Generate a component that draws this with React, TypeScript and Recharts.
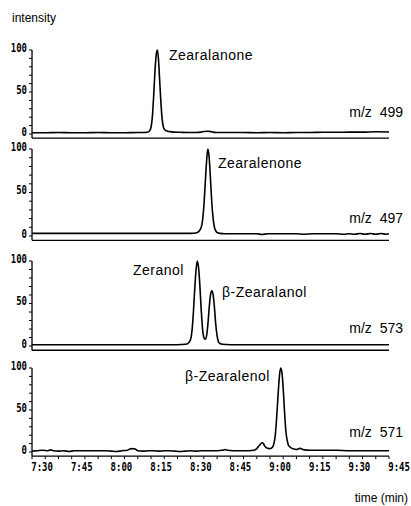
import React from 'react';
import { LineChart, Line, XAxis, YAxis } from 'recharts';

// time in minutes (450 = 7:30, 585 = 9:45)
const X_TICKS = [450, 455, 460, 465, 470, 475, 480, 485, 490, 495, 500, 505, 510, 515, 520, 525, 530, 535, 540, 545, 550, 555, 560, 565, 570, 575, 580, 585];
const X_LABELS = [450, 465, 480, 495, 510, 525, 540, 555, 570, 585];
const Y_TICKS = [0, 10, 20, 30, 40, 50, 60, 70, 80, 90, 100];
const Y_LABELS = [0, 50, 100];

// m/z 499 – Zearalanone
const mz499: [number, number][] = [
  [450, 1.5], [455, 1.5], [460, 1.8], [465, 1.5], [470, 1.5], [475, 1.8], [480, 1.5], [485, 1.5], [490, 1.8],
  [492, 1.8], [493.5, 2], [494.5, 4], [495, 8], [495.5, 20], [496, 45], [496.5, 75], [497, 95], [497.4, 100],
  [497.8, 90], [498.2, 68], [498.7, 40], [499.2, 18], [499.7, 8], [500.2, 5], [501, 3.5], [502, 2.8], [503.5, 2.2],
  [506, 2], [509, 1.8], [512, 1.8], [514, 2.2], [515, 3], [516.5, 3.2], [518, 2.6], [519.5, 1.8], [525, 1.8],
  [530, 1.8], [535, 1.5], [540, 1.8], [545, 1.5], [550, 1.8], [555, 1.8], [560, 2], [565, 2], [570, 2.2],
  [575, 2.2], [580, 2.6], [585, 2.4],
];

// m/z 497 – Zearalenone
const mz497: [number, number][] = [
  [450, 3], [460, 3], [470, 3], [480, 3], [490, 3], [500, 3], [505, 3], [510, 3], [512, 3.5], [513, 5],
  [514, 10], [514.5, 18], [515, 35], [515.5, 60], [516, 85], [516.5, 100], [517, 90], [517.5, 65], [518, 38],
  [518.5, 20], [519, 10], [519.5, 6], [520, 4], [521, 3], [523, 2.5], [526, 2.5], [530, 2.5], [535, 2.5],
  [537, 1.8], [539, 2.5], [545, 2.5], [550, 2.5], [553, 2], [556, 2.5], [560, 2.5], [565, 2.5], [568, 2],
  [570, 2.5], [572, 2], [574, 2.8], [576, 2], [578, 2.8], [580, 2], [582, 2.8], [584, 2], [585, 2.5],
];

// m/z 573 – Zeranol, beta-Zearalanol
const mz573: [number, number][] = [
  [450, 1.5], [460, 1.5], [470, 1.5], [480, 1.5], [490, 1.5], [500, 1.5], [505, 1.5], [508, 2], [509, 3],
  [510, 8], [510.5, 18], [511, 38], [511.5, 65], [512, 88], [512.5, 100], [513, 92], [513.5, 70], [514, 42],
  [514.5, 20], [515, 10], [515.5, 8], [516, 12], [516.5, 25], [517, 45], [517.5, 60], [518, 65], [518.5, 60],
  [519, 45], [519.5, 25], [520, 12], [520.5, 5], [521, 3], [522, 2], [525, 1.5], [530, 1.5], [540, 1.5],
  [550, 1.5], [560, 1.5], [570, 1.5], [580, 1.5], [585, 1.5],
];

// m/z 571 – beta-Zearalenol
const mz571: [number, number][] = [
  [450, 1], [452, 1.5], [454, 2], [456, 1.5], [457, 2.5], [458, 1.5], [460, 1], [462, 1.5], [464, 0.5],
  [466, 1.5], [468, 1.5], [470, 1.5], [472, 1.5], [474, 1.5], [476, 1.5], [478, 1.5], [480, 1], [482, 0.5],
  [484, 1.5], [486, 2], [487, 3.5], [488, 4], [489, 3.5], [490, 1.5], [492, 1], [494, 1.5], [496, 1.5],
  [498, 1], [500, 1.5], [502, 1.5], [504, 1], [506, 0.5], [508, 1], [510, 1.5], [512, 1], [514, 1.5],
  [516, 1.5], [518, 1.5], [520, 1.5], [522, 2], [523, 3], [524, 2], [526, 1.5], [528, 1.5], [530, 1.5],
  [532, 1.5], [534, 2], [535, 4], [536, 8], [537, 11], [537.5, 10], [538, 7], [539, 4.5], [540, 4], [541, 6],
  [542, 20], [542.5, 40], [543, 65], [543.5, 88], [544, 100], [544.5, 95], [545, 75], [545.5, 48], [546, 25],
  [546.5, 14], [547, 8], [548, 5], [549, 3.5], [550, 3], [551, 4], [551.5, 4.5], [552, 3.5], [553, 2.5],
  [555, 2], [558, 2], [560, 2], [565, 2], [570, 1.5], [575, 1.5], [580, 1.5], [585, 1.5],
];

const fmt = (m: number) => `${Math.floor(m / 60)}:${String(m % 60).padStart(2, '0')}`;

const XTick = (p: any) => {
  const { x, y, payload } = p;
  if (!X_LABELS.includes(payload.value)) return <g />;
  return (
    <text
      x={x - 1}
      y={y + 10}
      textAnchor="start"
      fontFamily="DejaVu Sans Mono"
      fontWeight="bold"
      fontSize={12}
      fill="#000"
      transform={`translate(${x},0) scale(0.75,1) translate(${-x},0)`}
    >
      {fmt(payload.value)}
    </text>
  );
};

const YTick = (p: any) => {
  const { x, y, payload } = p;
  if (!Y_LABELS.includes(payload.value)) return <g />;
  return (
    <text
      x={x}
      y={y + 2}
      textAnchor="end"
      fontFamily="DejaVu Sans Mono"
      fontWeight="bold"
      fontSize={12}
      fill="#000"
      transform={`translate(${x},0) scale(0.75,1) translate(${-x},0)`}
    >
      {payload.value}
    </text>
  );
};

type PanelProps = { series: [number, number][]; top: number; zero: number; labels: boolean };

const Panel = ({ series, top, zero, labels }: PanelProps) => {
  const data = series.map(([t, v]) => ({ t, v }));
  const k = (zero - top) / 100;
  const mt = 14;
  const plotH = 105 * k;
  const xH = labels ? 24 : 6;
  const H = mt + plotH + xH;
  return (
    <div style={{ position: 'absolute', left: 0, top: top - mt }}>
      <LineChart width={411} height={H} data={data} margin={{ top: mt, right: 22, bottom: 0, left: 0 }}>
        <XAxis
          type="number"
          dataKey="t"
          domain={[450, 585]}
          ticks={X_TICKS}
          interval={0}
          tickSize={3}
          height={xH}
          axisLine={{ stroke: '#000', strokeWidth: 1.3 }}
          tickLine={{ stroke: '#000', strokeWidth: 1 }}
          tick={labels ? (pp: any) => <XTick {...pp} /> : false}
        />
        <YAxis
          type="number"
          domain={[-5, 100]}
          ticks={Y_TICKS}
          interval={0}
          width={32}
          tickSize={3}
          axisLine={{ stroke: '#000', strokeWidth: 1.3 }}
          tickLine={{ stroke: '#000', strokeWidth: 1 }}
          tick={(pp: any) => <YTick {...pp} />}
        />
        <Line dataKey="v" type="monotone" stroke="#000" strokeWidth={1.6} dot={false} isAnimationActive={false} />
      </LineChart>
    </div>
  );
};

const txt = { fontFamily: '"Liberation Sans", Arial, sans-serif', fill: '#000' } as const;

export default function App() {
  return (
    <div style={{ position: 'absolute', left: 0, top: 0, width: 411, height: 506, background: '#fff', overflow: 'hidden' }}>
      <Panel series={mz499} top={50} zero={134} labels={false} />
      <Panel series={mz497} top={149} zero={236} labels={false} />
      <Panel series={mz573} top={261} zero={346} labels={false} />
      <Panel series={mz571} top={368} zero={452} labels={true} />
      <svg width={411} height={506} style={{ position: 'absolute', left: 0, top: 0, pointerEvents: 'none' }}>
        <text x={12} y={22} fontSize={12} {...txt}>intensity</text>
        <text x={169} y={60} fontSize={14} letterSpacing={0.5} {...txt}>Zearalanone</text>
        <text x={218} y={168} fontSize={14} letterSpacing={0.5} {...txt}>Zearalenone</text>
        <text x={133} y={275} fontSize={14} letterSpacing={0.5} {...txt}>Zeranol</text>
        <text x={222} y={297} fontSize={14} letterSpacing={0.5} {...txt}>β-Zearalanol</text>
        <text x={185} y={381} fontSize={14} letterSpacing={0.5} {...txt}>β-Zearalenol</text>
        <text x={403} y={117} fontSize={14} textAnchor="end" style={{ whiteSpace: 'pre' }} {...txt}>m/z  499</text>
        <text x={403} y={223} fontSize={14} textAnchor="end" style={{ whiteSpace: 'pre' }} {...txt}>m/z  497</text>
        <text x={403} y={333} fontSize={14} textAnchor="end" style={{ whiteSpace: 'pre' }} {...txt}>m/z  573</text>
        <text x={403} y={437} fontSize={14} textAnchor="end" style={{ whiteSpace: 'pre' }} {...txt}>m/z  571</text>
        <text x={408} y={502} fontSize={12} textAnchor="end" {...txt}>time (min)</text>
      </svg>
    </div>
  );
}
